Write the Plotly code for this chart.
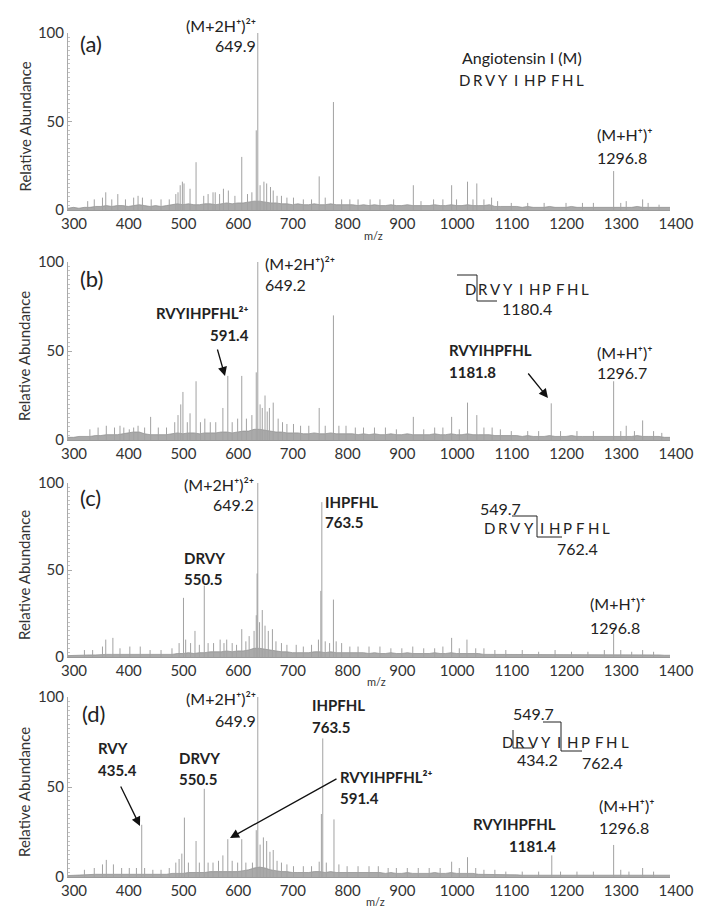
import plotly.graph_objects as go

W, H = 707, 915
FONT = "Lato"
TXT = "#222222"

# ---------------- data ----------------
tick_vals_x = [300, 400, 500, 600, 700, 800, 900, 1000, 1100, 1200, 1300, 1400]
tick_vals_y = [0, 50, 100]

noise_mz = [300, 310, 320, 330, 340, 350, 360, 370, 380, 390,
            400, 410, 420, 430, 440, 450, 460, 470, 480, 490,
            500, 510, 520, 530, 540, 550, 560, 570, 580, 590,
            600, 610, 620, 630, 640, 650, 660, 670, 680, 690,
            700, 710, 720, 730, 740, 750, 760, 770, 780, 790,
            800, 810, 820, 830, 840, 850, 860, 870, 880, 890,
            900, 910, 920, 930, 940, 950, 960, 970, 980, 990,
            1000, 1010, 1020, 1030, 1040, 1050, 1060, 1070, 1080, 1090,
            1100, 1110, 1120, 1130, 1140, 1150, 1160, 1170, 1180, 1190,
            1200, 1210, 1220, 1230, 1240, 1250, 1260, 1270, 1280, 1290,
            1300, 1310, 1320, 1330, 1340, 1350, 1360, 1370, 1380, 1390,
            1400]

noise_a = [1, 1.5, 1, 1.5, 1.5, 2, 2, 2.5, 2, 2.5,
           2.5, 2, 2.5, 3, 2.5, 2, 2.5, 2, 2.5, 3,
           3.5, 3, 3.5, 3, 3, 3.5, 3.5, 3, 3.5, 4,
           3.5, 4, 4, 4.5, 5, 5, 4.5, 4, 4, 3.5,
           3.5, 3, 3.5, 3, 3, 3.5, 3, 3, 3.5, 3,
           3, 3, 3, 2.5, 3, 2.5, 3, 2.5, 2.5, 3,
           2.5, 2.5, 3, 2.5, 2.5, 2.5, 2.5, 3, 2.5, 2.5,
           3, 2.5, 2.5, 3, 2.5, 2.5, 2.5, 3, 2, 2,
           2, 2, 2, 1.5, 2, 1.5, 1.5, 1.5, 2, 1.5,
           1.5, 1.5, 2, 1.5, 1.5, 1.5, 1.5, 1.5, 1.5, 1.5,
           1.5, 1.5, 1.5, 1.5, 2, 1.5, 1.5, 1.5, 1.5, 1.5,
           1.5]

noise_b = [1.5, 1.5, 2, 2, 2, 2.5, 2.5, 3, 3, 3,
           3.5, 4, 4.5, 4.5, 3.5, 3, 3, 3, 3, 3.5,
           4, 3.5, 4, 4, 3.5, 4, 4, 4, 4.5, 4.5,
           4, 4.5, 5, 5, 6, 6, 5.5, 5, 4.5, 4.5,
           4, 4, 4, 3.5, 3.5, 4, 3.5, 3.5, 4, 3.5,
           3.5, 3.5, 3.5, 3, 3.5, 3, 3.5, 3, 3, 3.5,
           3, 3, 3.5, 3, 3, 3, 3, 3.5, 3, 3,
           3.5, 3, 3, 3.5, 3, 3, 3, 3, 2.5, 2.5,
           2.5, 2.5, 2.5, 2, 2.5, 2, 2, 2, 2.5, 2,
           2, 2, 2.5, 2, 2, 2, 2, 2, 2, 2,
           2, 2, 2, 2, 2.5, 2, 2, 2, 2, 1.5,
           1.5]

noise_c = [0.8, 1, 1, 1, 1.2, 1.2, 1.5, 1.5, 1.5, 1.5,
           1.5, 1.5, 1.5, 1.5, 1.5, 1.2, 1.2, 1.2, 1.5, 1.5,
           2, 2, 2.5, 2, 2.5, 2.5, 3, 3, 3, 3.5,
           3, 3.5, 3.5, 4, 5, 5, 4.5, 4, 3.5, 3,
           3, 2.5, 2.5, 2.5, 2.5, 3, 3, 2.5, 3, 2.5,
           2.5, 2.5, 2.5, 2.5, 2.5, 2, 2.5, 2, 2, 2.5,
           2, 2, 2.5, 2, 2, 2, 2, 2.5, 2, 2,
           2.5, 2, 2, 2, 2, 2, 1.5, 1.5, 1.5, 1.5,
           1.5, 1.5, 1.5, 1.2, 1.5, 1.2, 1.2, 1.2, 1.5, 1.2,
           1.2, 1.2, 1.5, 1.2, 1.2, 1.2, 1.2, 1.2, 1.2, 1.5,
           1.5, 1.2, 1.2, 1.2, 1.5, 1.2, 1.2, 1.2, 1.2, 1,
           1]

noise_d = [0.8, 1, 1, 1, 1.2, 1.5, 1.5, 1.5, 1.5, 1.5,
           1.5, 1.5, 1.5, 1.5, 1.5, 1.2, 1.2, 1.5, 1.5, 2,
           2, 2, 2.5, 2.5, 2.5, 2.5, 3, 3, 3, 3,
           3, 3, 3.5, 4, 5, 5.5, 5, 4, 3.5, 3,
           3, 2.5, 2.5, 2.5, 2.5, 3, 3, 2.5, 3, 2.5,
           2.5, 2.5, 2.5, 2.5, 2.5, 2.5, 2.5, 2.5, 2, 2.5,
           2, 2, 2.5, 2, 2, 2, 2, 2.5, 2, 2,
           2.5, 2, 2, 2, 2, 1.5, 1.5, 1.2, 1.2, 1.2,
           1.2, 1.2, 1.2, 1, 1.2, 1, 1, 1, 1.2, 1,
           1, 1, 1.2, 1, 1, 1, 1, 1, 1, 1.2,
           1.2, 1, 1, 1, 1.2, 1, 1, 1, 1, 1,
           1]

# peaks (m/z, relative abundance) for each spectrum
mz_a = [336, 348, 363, 369, 380, 391, 405, 420, 428, 436, 452, 470, 485, 497, 501, 505, 509, 512,
        523, 534, 548, 556, 565, 569, 577, 584, 593, 605, 617.5, 628, 636, 644, 646.8, 651, 658,
        663, 670, 675, 682, 690, 700, 712, 730, 745, 759, 770, 785, 800, 815, 830, 852, 870, 895,
        931, 945, 968, 985, 1001, 1010, 1030, 1040, 1047, 1060, 1074, 1085, 1110, 1140, 1170,
        1210, 1240, 1260, 1297, 1310, 1320, 1350, 1360, 1380]
int_a = [5, 6, 7, 10, 6, 9, 6, 7, 8, 7, 6, 6, 6, 9, 10, 14, 16, 15,
         12, 27, 8, 9, 10, 10, 9, 12, 11, 8, 30, 9, 10, 45, 100, 14, 16,
         15, 13, 11, 8, 8, 7, 7, 6, 6, 19, 7, 61, 6, 6, 6, 6, 6, 6,
         14, 5, 6, 6, 14, 6, 16, 6, 15, 6, 7, 5, 4, 4, 4,
         4, 4, 4, 22, 4, 5, 6, 4, 3]

mz_b = [340, 355, 370, 385, 395, 402, 412, 420, 428, 440, 451, 465, 480, 495, 501, 506, 510, 518,
        523, 534, 542, 550, 560, 570, 583, 592, 600, 610, 617.5, 626, 636, 644, 646.8, 651, 655,
        660, 664, 668, 675, 684, 692, 700, 712, 725, 740, 759, 770, 785, 795, 808, 825, 840, 860,
        880, 900, 931, 950, 970, 985, 1001, 1015, 1030, 1047, 1060, 1075, 1090, 1110, 1140, 1160,
        1183, 1200, 1230, 1260, 1297, 1310, 1320, 1335, 1350, 1370, 1385]
int_b = [6, 7, 8, 7, 8, 7, 6, 7, 8, 7, 13, 7, 7, 10, 14, 20, 27, 10,
         15, 33, 10, 12, 10, 10, 18, 36, 10, 12, 36, 12, 14, 38, 100, 20, 18,
         25, 16, 18, 21, 12, 10, 9, 9, 8, 8, 18, 8, 70, 8, 8, 7, 7, 7,
         7, 6, 13, 6, 7, 7, 13, 6, 21, 14, 7, 7, 6, 5, 5, 5,
         20.6, 5, 5, 5, 33, 5, 8, 5, 11, 5, 4]

mz_c = [330, 345, 363, 369, 382, 395, 413, 432, 450, 470, 490, 503, 511, 515, 524, 532, 540, 549,
        556, 566, 578, 585, 590, 600, 608, 617.5, 625, 631, 640, 644, 645.5, 646.8, 650, 655, 660,
        666, 673.5, 680, 690, 700, 717, 730, 745, 757.6, 762, 763.8, 770, 778, 785, 790, 800, 815,
        830, 850, 870, 890, 910, 930, 950, 970, 985, 1001, 1015, 1029, 1045, 1060, 1080, 1100,
        1130, 1160, 1190, 1220, 1250, 1280, 1297, 1310, 1330, 1350, 1370]
int_c = [4, 4, 6, 10, 11, 5, 6, 6, 4, 4, 5, 8, 34, 10, 8, 15, 7, 41,
         8, 8, 10, 8, 10, 8, 7, 16, 9, 12, 15, 24, 48, 100, 20, 27, 18,
         15, 16, 9, 8, 7, 7, 6, 7, 10, 38, 89, 9, 8, 33, 9, 8, 6,
         6, 6, 6, 5, 5, 6, 5, 5, 6, 11, 5, 10, 5, 5, 4, 4,
         4, 3, 4, 3, 3, 4, 13.6, 4, 3, 4, 3]

mz_d = [330, 348, 363, 370, 383, 398, 412, 425, 434.7, 440, 455, 470, 485, 497, 503, 508, 512.7,
        520, 534, 540, 549, 556, 565, 575, 583, 592, 600, 610, 617.5, 625, 637, 644, 646.8, 651,
        657, 663, 669, 675, 682, 690, 700, 712, 730, 745, 759, 763, 765.5, 772, 786, 795, 810,
        830, 850, 867, 885, 900, 920, 940, 960, 980, 1001, 1015, 1030, 1045, 1060, 1080, 1100,
        1130, 1160, 1184, 1200, 1230, 1260, 1297, 1310, 1325, 1350, 1370]
int_d = [4, 5, 7, 9.5, 7, 5, 5, 5, 29, 5, 4, 4, 5, 8, 10, 13, 33,
         8, 20, 8, 49, 8, 8, 9, 12, 21, 9, 8, 21, 8, 8, 26, 100, 18,
         22, 20, 14, 15, 9, 8, 7, 6, 6, 6, 8.5, 35, 77, 8, 32, 7, 6,
         6, 6, 6, 5, 5, 5, 5, 5, 5, 8.5, 5, 11, 5, 4, 4, 3,
         3, 3, 12, 3, 3, 3, 17.8, 4, 3, 5, 3]

sequence = ["D", "R", "V", "Y", "I", "H", "P", "F", "H", "L"]

# ---------------- layout geometry (pixels) ----------------
X0, X1 = 68, 670
panels = [
    dict(mz=mz_a, it=int_a, noise=noise_a, top=33, bot=210),
    dict(mz=mz_b, it=int_b, noise=noise_b, top=262, bot=440),
    dict(mz=mz_c, it=int_c, noise=noise_c, top=483, bot=657),
    dict(mz=mz_d, it=int_d, noise=noise_d, top=697, bot=877),
]

fig = go.Figure()


def px(x):
    return x / W


def py(y):
    return 1 - y / H


for i, p in enumerate(panels):
    n = i + 1
    xa = "x" if n == 1 else f"x{n}"
    ya = "y" if n == 1 else f"y{n}"
    fig.add_trace(go.Scatter(
        x=noise_mz, y=p["noise"], mode="lines", fill="tozeroy",
        line=dict(color="#8c8c8c", width=0.7), fillcolor="rgba(125,125,125,0.65)",
        xaxis=xa, yaxis=ya, hoverinfo="skip", showlegend=False))
    sx, sy = [], []
    for m, v in zip(p["mz"], p["it"]):
        sx += [m, m, None]
        sy += [0, v, None]
    fig.add_trace(go.Scatter(
        x=sx, y=sy, mode="lines", line=dict(color="#a2a2a2", width=1),
        xaxis=xa, yaxis=ya, hoverinfo="skip", showlegend=False))

    xkey = "xaxis" if n == 1 else f"xaxis{n}"
    ykey = "yaxis" if n == 1 else f"yaxis{n}"
    fig.layout[xkey] = dict(
        domain=[X0 / W, X1 / W], range=[300, 1400], anchor=ya,
        tickvals=tick_vals_x, showline=True, linecolor="#9a9a9a", linewidth=1,
        ticks="", showgrid=False, zeroline=False, automargin=False,
        tickfont=dict(family=FONT, size=15, color="#333"), ticklabelshift=6)
    fig.layout[ykey] = dict(
        domain=[py(p["bot"]), py(p["top"])], range=[0, 100], anchor=xa,
        tickvals=tick_vals_y, showline=True, linecolor="#aaaaaa", linewidth=1,
        ticks="inside", ticklen=4, tickcolor="#aaaaaa",
        minor=dict(dtick=2.5, ticklen=2, tickcolor="#c4c4c4", ticks="inside"),
        showgrid=False, zeroline=False, automargin=False,
        tickfont=dict(family=FONT, size=15, color="#333"))

    fig.add_annotation(xref="paper", yref="paper", x=px(24), y=py((p["top"] + p["bot"]) / 2 + 5),
                       text="Relative Abundance", textangle=-90, showarrow=False,
                       font=dict(family=FONT, size=15, color="#333"),
                       xanchor="center", yanchor="middle")


def txt(x, y, s, anchor="left", size=16, bold=False, color=TXT):
    fig.add_annotation(xref="paper", yref="paper", x=px(x), y=py(y), text=s,
                       showarrow=False, xanchor=anchor, yanchor="middle",
                       font=dict(family=FONT, size=size, color=color,
                                 weight="bold" if bold else "normal"))


def btxt(x, y, s, anchor="left"):
    txt(x, y, s, anchor=anchor, size=15, bold=True)


def arrow(x0, y0, x1, y1):
    fig.add_annotation(xref="paper", yref="paper", x=px(x1), y=py(y1),
                       ax=x0 - x1, ay=y0 - y1, axref="pixel", ayref="pixel",
                       text="", showarrow=True, arrowhead=2, arrowsize=1.4,
                       arrowwidth=1.3, arrowcolor="#111")


def line(x0, y0, x1, y1):
    fig.add_shape(type="line", xref="paper", yref="paper",
                  x0=px(x0), y0=py(y0), x1=px(x1), y1=py(y1),
                  line=dict(color="#222", width=1))


def seq(xstart, step, y):
    for k, ch in enumerate(sequence):
        txt(xstart + k * step, y, ch, anchor="center", size=15)


MH2 = "(M+2H\u207a)\u00b2\u207a"
MH1 = "(M+H\u207a)\u207a"
FRAG2 = "RVYIHPFHL\u00b2\u207a"

# ---- panel (a)
txt(78, 43, "(a)", size=22)
txt(258, 25, MH2, anchor="right")
txt(258, 45, "649.9", anchor="right")
txt(460, 57, "Angiotensin I (M)")
seq(465, 12.8, 80)
txt(595, 135, MH1)
txt(595, 157, "1296.8")
txt(373, 236, "m/z", anchor="center", size=11, color="#333")

# ---- panel (b)
txt(78, 278, "(b)", size=22)
txt(263, 264, MH2)
txt(263, 284, "649.2")
btxt(251, 313, FRAG2, anchor="right")
btxt(251, 335, "591.4", anchor="right")
arrow(217, 348, 225, 376)
seq(470, 12.8, 289)
line(457, 275, 477, 275)
line(477, 275, 477, 301)
line(477, 301, 497, 301)
txt(527, 308, "1180.4", anchor="center")
btxt(447, 350, "RVYIHPFHL")
btxt(447, 372, "1181.8")
arrow(527, 372, 548, 398)
txt(595, 352, MH1)
txt(595, 373, "1296.7")

# ---- panel (c)
txt(78, 497, "(c)", size=22)
txt(256, 484, MH2, anchor="right")
txt(256, 504, "649.2", anchor="right")
btxt(182, 558, "DRVY")
btxt(182, 579, "550.5")
btxt(323, 502, "IHPFHL")
btxt(323, 522, "763.5")
txt(500, 508, "549.7", anchor="center")
seq(490, 12.9, 528)
line(512, 516, 537, 516)
line(537, 516, 537, 537)
line(537, 537, 562, 537)
txt(577, 548, "762.4", anchor="center")
txt(588, 603, MH1)
txt(588, 627, "1296.8")
txt(376, 681, "m/z", anchor="center", size=11, color="#333")

# ---- panel (d)
txt(80, 713, "(d)", size=22)
txt(258, 698, MH2, anchor="right")
txt(258, 720, "649.9", anchor="right")
btxt(310, 705, "IHPFHL")
btxt(310, 727, "763.5")
btxt(96, 748, "RVY")
btxt(96, 770, "435.4")
arrow(120, 785, 140, 826)
btxt(177, 758, "DRVY")
btxt(177, 779, "550.5")
btxt(338, 777, FRAG2)
btxt(338, 798, "591.4")
arrow(338, 778, 230, 838)
txt(533, 713, "549.7", anchor="center")
seq(507, 13.1, 742)
line(543, 722, 561, 722)
line(561, 722, 561, 751)
line(561, 751, 582, 751)
line(513, 730, 513, 748)
line(513, 748, 533, 748)
txt(537, 759, "434.2", anchor="center")
txt(602, 762, "762.4", anchor="center")
btxt(558, 824, "RVYIHPFHL", anchor="right")
btxt(558, 846, "1181.4", anchor="right")
txt(597, 805, MH1)
txt(597, 827, "1296.8")
txt(375, 901, "m/z", anchor="center", size=11, color="#333")

fig.update_layout(
    width=W, height=H, margin=dict(l=0, r=0, t=0, b=0),
    paper_bgcolor="white", plot_bgcolor="white", showlegend=False,
    font=dict(family=FONT, color="#333"),
)

fig.write_html("out.html", config={"displayModeBar": False},
               post_script="document.body.style.margin='0';document.body.style.padding='0';")
